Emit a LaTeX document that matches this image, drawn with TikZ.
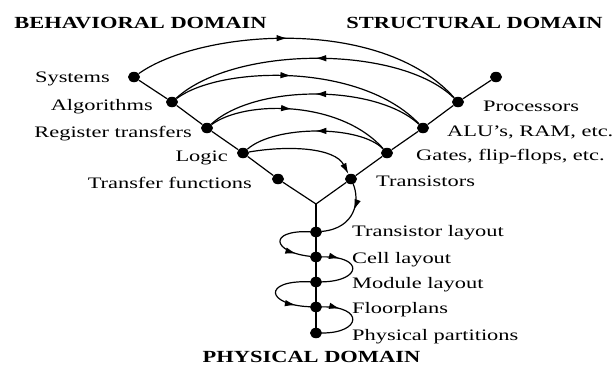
\documentclass[tikz,border=0pt]{standalone}
\usepackage{fontspec}
\setmainfont[FakeStretch=1.4]{Liberation Serif}
\newfontfamily\hdfont[FakeStretch=1.32]{Liberation Serif}
\usetikzlibrary{arrows.meta,decorations.markings,shapes.geometric}
\tikzset{
  bdot/.style={ellipse,fill=black,inner sep=0pt,minimum width=12pt,minimum height=10.5pt},
  lbl/.style={inner sep=0pt,font=\fontsize{16}{18}\selectfont},
  hdr/.style={inner sep=0pt,anchor=base,font=\hdfont\bfseries\fontsize{17}{20}\selectfont},
  wire/.style={line width=1.2pt},
  tipa/.tip={Latex[length=11pt,width=6.5pt]},
  midarr/.style={postaction={decorate},decoration={markings,mark=at position #1 with {\arrow{tipa}}}},
}
\begin{document}
\begin{tikzpicture}[x=1pt,y=-1pt]
\useasboundingbox (0,0) rectangle (615,367);
% headers
\node[hdr] (hb) at (140.5,28) {BEHAVIORAL DOMAIN};
\node[hdr] (hs) at (474.5,28) {STRUCTURAL DOMAIN};
\node[hdr] (hp) at (311.5,362) {PHYSICAL DOMAIN};
% dots
\node[bdot] (sy) at (134,77) {};
\node[bdot] (al) at (172,102) {};
\node[bdot] (rt) at (207,128) {};
\node[bdot] (lo) at (243,153) {};
\node[bdot] (tf) at (278,179) {};
\node[bdot] (tp) at (496,77) {};
\node[bdot] (pr) at (458,102) {};
\node[bdot] (alu) at (423,128) {};
\node[bdot] (ga) at (387,153) {};
\node[bdot] (tr) at (351,179) {};
\coordinate (j) at (316,204);
\node[bdot] (tl) at (316,232) {};
\node[bdot] (cl) at (316,257) {};
\node[bdot] (ml) at (316,282) {};
\node[bdot] (fp) at (316,307) {};
\node[bdot] (pp) at (316,333) {};
% labels
\node[lbl,anchor=base east] (lsy) at (110,82) {Systems};
\node[lbl,anchor=base east] (lal) at (153,110.5) {Algorithms};
\node[lbl,anchor=base east] (lrt) at (192,137) {Register transfers};
\node[lbl,anchor=base east] (llo) at (228,161.5) {Logic};
\node[lbl,anchor=base east] (ltf) at (252,188) {Transfer functions};
\node[lbl,anchor=base west] (lpr) at (483,111.5) {Processors};
\node[lbl,anchor=base west] (lalu) at (447,136) {ALU's, RAM, etc.};
\node[lbl,anchor=base west] (lga) at (416,160) {Gates, flip-flops, etc.};
\node[lbl,anchor=base west] (ltr) at (376,186.5) {Transistors};
\node[lbl,anchor=base west] (ltl) at (352,236.5) {Transistor layout};
\node[lbl,anchor=base west] (lcl) at (352,263) {Cell layout};
\node[lbl,anchor=base west] (lml) at (352,288) {Module layout};
\node[lbl,anchor=base west] (lfp) at (352,313) {Floorplans};
\node[lbl,anchor=base west] (lpp) at (352,340) {Physical partitions};
% Y axes
\draw[wire] (sy) -- (al) -- (rt) -- (lo) -- (tf) -- (j);
\draw[wire] (tp) -- (pr) -- (alu) -- (ga) -- (tr) -- (j);
\draw[wire] (j) -- (pp);
% arcs
\draw[wire,midarr=0.46] (sy) .. controls (200,30) and (380,15) .. (pr);
\draw[wire,midarr=0.5] (pr) .. controls (400,45) and (235,45) .. (al);
\draw[wire,midarr=0.46] (al) .. controls (220,66) and (360,62) .. (alu);
\draw[wire,midarr=0.5] (alu) .. controls (375,84) and (255,84) .. (rt);
\draw[wire,midarr=0.45] (rt) .. controls (245,100) and (340,100) .. (ga);
\draw[wire,midarr=0.5] (ga) .. controls (360,125) and (275,125) .. (lo);
\draw[wire,-tipa] (lo) .. controls (290,145) and (335,148) .. (tr);
\draw[wire,midarr=0.4] (tr) .. controls (360,200) and (356,228) .. (tl);
\draw[wire,midarr=0.8] (tl) .. controls (268,230) and (272,252) .. (cl);
\draw[wire,midarr=0.25] (cl) .. controls (364,256) and (362,281) .. (ml);
\draw[wire,midarr=0.82] (ml) .. controls (262,280) and (266,305) .. (fp);
\draw[wire,midarr=0.25] (fp) .. controls (364,306) and (362,333) .. (pp);
\end{tikzpicture}
\end{document}
